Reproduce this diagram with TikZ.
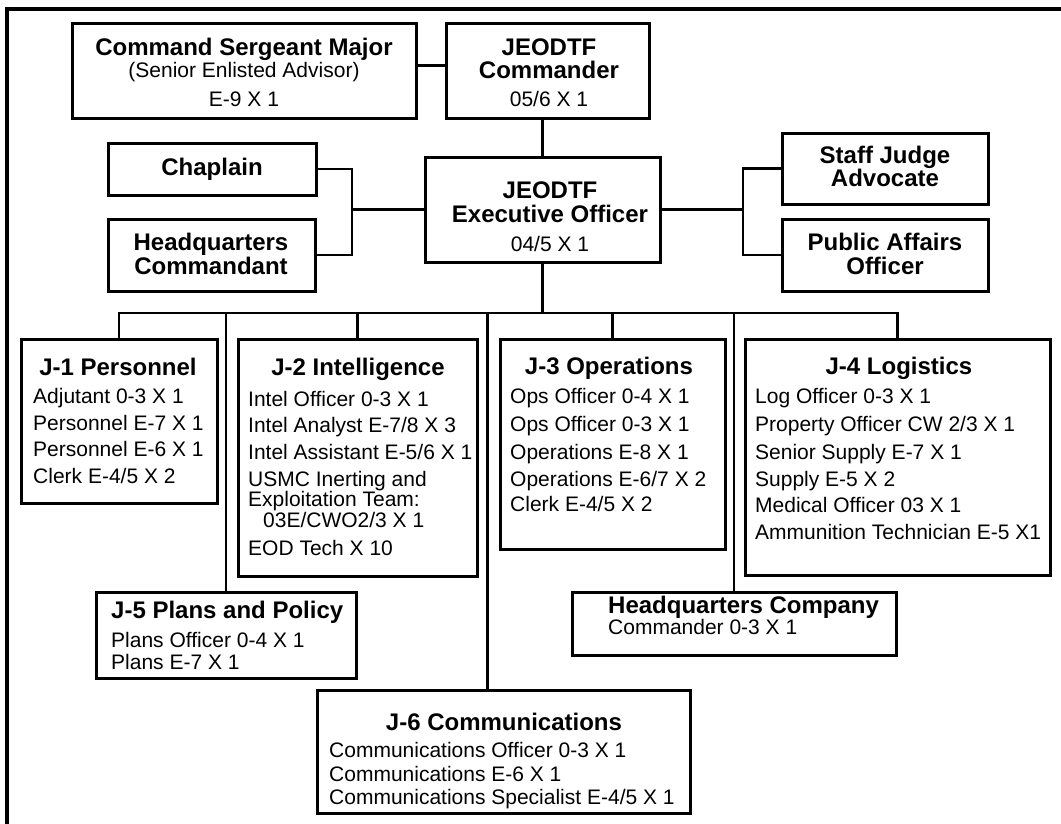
\documentclass[tikz,border=0pt]{standalone}
\usepackage{fontspec}
\setmainfont{Liberation Sans}
\begin{document}
\begin{tikzpicture}[x=1pt, y=-1pt, line join=miter, line cap=rect,
    box/.style={draw, line width=3pt, inner sep=0pt, outer sep=0pt, anchor=north west},
    head/.style={font=\bfseries\fontsize{24}{24}\selectfont, inner sep=0pt, anchor=base},
    headl/.style={head, anchor=base west},
    txt/.style={font=\fontsize{21}{21}\selectfont, inner sep=0pt, anchor=base},
    item/.style={txt, anchor=base west},
    link/.style={line width=2.5pt}]
        \useasboundingbox (0,0) rectangle (1061,823);
        \draw[line width=4pt] (7,823) -- (7,9) -- (1061,9);
        % command group
        \node[box, minimum width=344, minimum height=95] (csm) at (72,23) {};
        \node[box, minimum width=203, minimum height=95] (cdr) at (446,23) {};
        \node[box, minimum width=235, minimum height=105] (xo) at (425,157) {};
        \node[box, minimum width=208, minimum height=52] (chap) at (108,143) {};
        \node[box, minimum width=207, minimum height=72] (hqc) at (108,219) {};
        \node[box, minimum width=206, minimum height=71] (sja) at (782,133) {};
        \node[box, minimum width=206, minimum height=72] (pao) at (782,219) {};
        \node[head] (csm-t) at (244,55) {Command Sergeant Major};
        \node[txt] (csm-a) at (244,77) {(Senior Enlisted Advisor)};
        \node[txt] (csm-b) at (244,106) {E-9 X 1};
        \node[head] (cdr-t) at (549,55) {JEODTF};
        \node[head] (cdr-a) at (549,78) {Commander};
        \node[txt] (cdr-b) at (549,106) {05/6 X 1};
        \node[head] (xo-t) at (550,198) {JEODTF};
        \node[head] (xo-a) at (550,222) {Executive Officer};
        \node[txt] (xo-b) at (550,251) {04/5 X 1};
        \node[head] (chap-t) at (212,175) {Chaplain};
        \node[head] (hqc-t) at (211,250) {Headquarters};
        \node[head] (hqc-a) at (211,274) {Commandant};
        \node[head] (sja-t) at (885,163) {Staff Judge};
        \node[head] (sja-a) at (885,186) {Advocate};
        \node[head] (pao-t) at (885,250) {Public Affairs};
        \node[head] (pao-a) at (885,274) {Officer};
        % staff sections
        \node[box, minimum width=196, minimum height=164] (j1) at (21,339) {};
        \node[box, minimum width=239, minimum height=237] (j2) at (238,339) {};
        \node[box, minimum width=225, minimum height=210] (j3) at (500,339) {};
        \node[box, minimum width=305, minimum height=236] (j4) at (745,339) {};
        \node[box, minimum width=260, minimum height=86] (j5) at (96,592) {};
        \node[box, minimum width=324, minimum height=63] (hqco) at (572,592) {};
        \node[box, minimum width=373, minimum height=123] (j6) at (317,690) {};
        \node[head] (j1-t) at (118,375) {J-1 Personnel};
        \node[item] (j1-1) at (33,403) {Adjutant 0-3 X 1};
        \node[item] (j1-2) at (33,430) {Personnel E-7 X 1};
        \node[item] (j1-3) at (33,456) {Personnel E-6 X 1};
        \node[item] (j1-4) at (33,483) {Clerk E-4/5 X 2};
        \node[head] (j2-t) at (358,375) {J-2 Intelligence};
        \node[item] (j2-1) at (248,406) {Intel Officer 0-3 X 1};
        \node[item] (j2-2) at (248,432) {Intel Analyst E-7/8 X 3};
        \node[item] (j2-3) at (248,459) {Intel Assistant E-5/6 X 1};
        \node[item] (j2-4) at (248,486) {USMC Inerting and};
        \node[item] (j2-5) at (248,506) {Exploitation Team:};
        \node[item] (j2-6) at (263,527) {03E/CWO2/3 X 1};
        \node[item] (j2-7) at (248,555) {EOD Tech X 10};
        \node[head] (j3-t) at (609,374) {J-3 Operations};
        \node[item] (j3-1) at (510,403) {Ops Officer 0-4 X 1};
        \node[item] (j3-2) at (510,431) {Ops Officer 0-3 X 1};
        \node[item] (j3-3) at (510,459) {Operations E-8 X 1};
        \node[item] (j3-4) at (510,486) {Operations E-6/7 X 2};
        \node[item] (j3-5) at (510,511) {Clerk E-4/5 X 2};
        \node[head] (j4-t) at (899,374) {J-4 Logistics};
        \node[item] (j4-1) at (755,403) {Log Officer 0-3 X 1};
        \node[item] (j4-2) at (755,431) {Property Officer CW 2/3 X 1};
        \node[item] (j4-3) at (755,459) {Senior Supply E-7 X 1};
        \node[item] (j4-4) at (755,486) {Supply E-5 X 2};
        \node[item] (j4-5) at (755,512) {Medical Officer 03 X 1};
        \node[item] (j4-6) at (755,539) {Ammunition Technician E-5 X1};
        \node[headl] (j5-t) at (111,618) {J-5 Plans and Policy};
        \node[item] (j5-1) at (111,647) {Plans Officer 0-4 X 1};
        \node[item] (j5-2) at (111,669) {Plans E-7 X 1};
        \node[headl] (hqco-t) at (608,613) {Headquarters Company};
        \node[item] (hqco-1) at (608,634) {Commander 0-3 X 1};
        \node[head] (j6-t) at (504,730) {J-6 Communications};
        \node[item] (j6-1) at (329,757) {Communications Officer 0-3 X 1};
        \node[item] (j6-2) at (329,781) {Communications E-6 X 1};
        \node[item] (j6-3) at (329,804) {Communications Specialist E-4/5 X 1};
        % connectors
        \coordinate (lbr) at (352,209.5);
        \coordinate (rbr) at (743,209.5);
        \coordinate (bus) at (542.5,313);
        \draw[link] ([yshift=5pt]csm.east) -- ([yshift=5pt]cdr.west);
        \draw[link] (xo.north |- cdr.south) -- (xo.north);
        \draw[link] (chap.east) -| (lbr) |- (hqc.east);
        \draw[link] (lbr) -- (xo.west);
        \draw[link] (sja.west) -| (rbr) |- (pao.west);
        \draw[link] (rbr) -- (xo.east);
        \draw[link] (xo.south) -- (bus);
        \draw[link] (j1.north) |- (bus) -| (j4.north);
        \draw[link] (j2.north) -- (j2.north |- bus);
        \draw[link] (j3.north) -- (j3.north |- bus);
        \draw[link] (j5.north) -- (j5.north |- bus);
        \draw[link] (hqco.north) -- (hqco.north |- bus);
        \draw[link] ([xshift=-16pt]j6.north) -- ([xshift=-16pt]j6.north |- bus);
    \end{tikzpicture}
\end{document}
